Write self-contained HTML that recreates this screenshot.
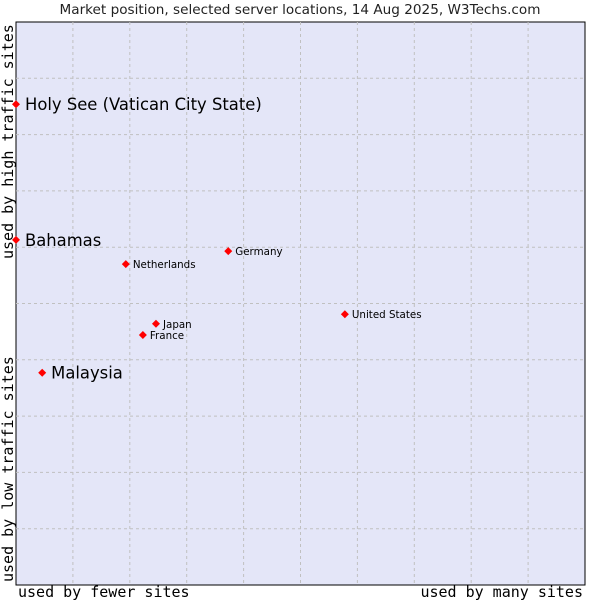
<!DOCTYPE html>
<html><head><meta charset="utf-8"><style>
body{margin:0;background:#fff;width:600px;height:600px;overflow:hidden}
svg{display:block;font-family:"DejaVu Sans","Liberation Sans",sans-serif}
</style></head><body>
<svg id="chart" width="600" height="600">
<text x="300" y="14" text-anchor="middle" font-size="13.6" fill="#222">Market position, selected server locations, 14 Aug 2025, W3Techs.com</text>
<rect x="16" y="22" width="569" height="563" fill="#e4e6f8" stroke="#000" stroke-width="1"/>
<g id="grid"></g>
<text x="18" y="597" font-family="DejaVu Sans Mono,Liberation Mono,monospace" font-size="15" fill="#000">used by fewer sites</text>
<text x="583" y="597" text-anchor="end" font-family="DejaVu Sans Mono,Liberation Mono,monospace" font-size="15" fill="#000">used by many sites</text>
<text transform="translate(13,582) rotate(-90)" font-family="DejaVu Sans Mono,Liberation Mono,monospace" font-size="15" fill="#000">used by low traffic sites</text>
<text transform="translate(13,259) rotate(-90)" font-family="DejaVu Sans Mono,Liberation Mono,monospace" font-size="15" fill="#000">used by high traffic sites</text>
<g id="points"></g>
</svg>
<script>
const names=["Holy See (Vatican City State)","Bahamas","Malaysia","Netherlands","Germany","United States","Japan","France"];
const xs=[0,0,4.6,19.3,37.3,57.8,24.6,22.3];
const ys=[85.4,61.3,37.7,57.0,59.3,48.1,46.4,44.4];
const big=[true,true,true,false,false,false,false,false];
const L=16,T=22,W=569,H=563;
const sx=v=>L+v/100*W, sy=v=>T+H-v/100*H;
const NS="http://www.w3.org/2000/svg";
const g=document.getElementById('grid');
for(let i=1;i<10;i++){
  const a=document.createElementNS(NS,'line');
  a.setAttribute('x1',sx(i*10));a.setAttribute('x2',sx(i*10));a.setAttribute('y1',T);a.setAttribute('y2',T+H);
  a.setAttribute('stroke','#c0c0c0');a.setAttribute('stroke-dasharray','3,3');
  
  
  g.appendChild(a);
  const b=document.createElementNS(NS,'line');
  b.setAttribute('y1',sy(i*10));b.setAttribute('y2',sy(i*10));b.setAttribute('x1',L);b.setAttribute('x2',L+W);
  b.setAttribute('stroke','#c0c0c0');b.setAttribute('stroke-dasharray','3,3');
  
  
  g.appendChild(b);
}
const p=document.getElementById('points');
names.forEach((n,i)=>{
  const x=sx(xs[i]),y=sy(ys[i]);
  const d=document.createElementNS(NS,'path');
  d.setAttribute('d',`M${x-4},${y} L${x},${y-4} L${x+4},${y} L${x},${y+4} Z`);
  d.setAttribute('fill','#f00');
  
  
  p.appendChild(d);
  const t=document.createElementNS(NS,'text');
  t.setAttribute('x',x+(big[i]?9:7));
  t.setAttribute('y',y+(big[i]?6:4));
  t.setAttribute('font-size',big[i]?16.4:10.3);
  t.setAttribute('fill','#000');
  t.textContent=n;
  
  
  p.appendChild(t);
});
</script>
</body></html>
